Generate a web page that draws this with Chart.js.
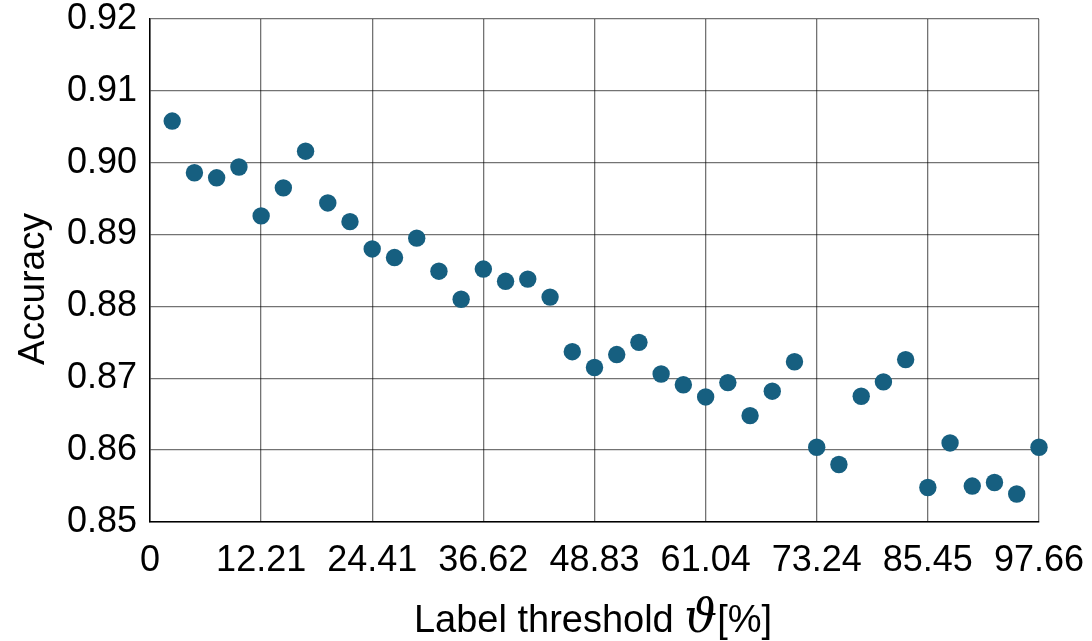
<!DOCTYPE html>
<html>
<head>
<meta charset="utf-8">
<script src="https://cdn.jsdelivr.net/npm/chart.js@4/dist/chart.umd.min.js"></script>
<style>
  html, body { margin: 0; padding: 0; background: #ffffff; }
  #wrap { width: 1092px; height: 641px; }
</style>
</head>
<body>
<div id="wrap"><canvas id="c" width="1092" height="641"></canvas></div>
<script>
// Label threshold (%) for each run
const thresholds = [
  2.44, 4.88, 7.32, 9.77, 12.21, 14.65, 17.09, 19.53, 21.97, 24.41,
  26.86, 29.30, 31.74, 34.18, 36.62, 39.06, 41.50, 43.95, 46.39, 48.83,
  51.27, 53.71, 56.15, 58.59, 61.04, 63.48, 65.92, 68.36, 70.80, 73.24,
  75.68, 78.13, 80.57, 83.01, 85.45, 87.89, 90.33, 92.77, 95.21, 97.66
];

// Accuracy measured at each threshold
const accuracy = [
  0.9058, 0.8986, 0.8979, 0.8994, 0.8926, 0.8965, 0.9016, 0.8944, 0.8918, 0.8880,
  0.8868, 0.8895, 0.8849, 0.8810, 0.8852, 0.8835, 0.8838, 0.8813, 0.8737, 0.8715,
  0.8733, 0.8750, 0.8706, 0.8691, 0.8674, 0.8694, 0.8648, 0.8682, 0.8723, 0.8604,
  0.8580, 0.8675, 0.8695, 0.8726, 0.8548, 0.8610, 0.8550, 0.8555, 0.8539, 0.8604
];

// Tick labels on the threshold axis
const xTickLabels = ['0', '12.21', '24.41', '36.62', '48.83', '61.04', '73.24', '85.45', '97.66'];
const yTickValues = [0.85, 0.86, 0.87, 0.88, 0.89, 0.90, 0.91, 0.92];

const SANS = '"Liberation Sans", Arial, sans-serif';
const gridColor = 'rgba(0,0,0,0.55)';

// Axis titles drawn by hand so the theta can use a script-like italic face
const axisTitles = {
  id: 'axisTitles',
  afterDraw(chart) {
    const ctx = chart.ctx;
    ctx.save();
    ctx.fillStyle = '#000';
    ctx.textBaseline = 'alphabetic';

    // x title: "Label threshold ϑ[%]"
    const parts = [
      { t: 'Label threshold ', f: '38px ' + SANS },
      { t: 'ϑ', f: 'italic 46px "DejaVu Serif", "Liberation Serif", serif' },
      { t: '[%]', f: '38px ' + SANS }
    ];
    let total = 0;
    parts.forEach(p => { ctx.font = p.f; p.w = ctx.measureText(p.t).width; total += p.w; });
    let x = 593 - total / 2;
    parts.forEach(p => { ctx.font = p.f; ctx.textAlign = 'left'; ctx.fillText(p.t, x, 632); x += p.w; });

    // y title: "Accuracy"
    ctx.translate(44, 289);
    ctx.rotate(-Math.PI / 2);
    ctx.font = '37px ' + SANS;
    ctx.textAlign = 'center';
    ctx.fillText('Accuracy', 0, 0);
    ctx.restore();
  }
};

new Chart(document.getElementById('c'), {
  type: 'scatter',
  data: {
    datasets: [{
      data: thresholds.map((t, i) => ({ x: t, y: accuracy[i] })),
      backgroundColor: '#165f80',
      borderWidth: 0,
      pointRadius: 8.7,
      pointHoverRadius: 8.7,
      clip: false
    }]
  },
  options: {
    responsive: false,
    animation: false,
    layout: { padding: { top: 19, right: 53, left: 0, bottom: 0 } },
    plugins: {
      legend: { display: false },
      tooltip: { enabled: false }
    },
    scales: {
      x: {
        type: 'linear',
        min: 0,
        max: parseFloat(xTickLabels[xTickLabels.length - 1]),
        afterBuildTicks(scale) {
          scale.ticks = xTickLabels.map(l => ({ value: parseFloat(l) }));
        },
        afterFit(scale) {
          scale.height = 119;
          scale.paddingLeft = 0;
          scale.paddingRight = 0;
        },
        ticks: {
          autoSkip: false,
          maxRotation: 0,
          padding: 17,
          color: '#000',
          font: { family: SANS, size: 36 },
          callback: (v, i) => xTickLabels[i]
        },
        grid: { color: gridColor, lineWidth: 1.3, drawTicks: false },
        border: { color: '#000', width: 1.5 }
      },
      y: {
        type: 'linear',
        min: yTickValues[0],
        max: yTickValues[yTickValues.length - 1],
        afterBuildTicks(scale) {
          scale.ticks = yTickValues.map(v => ({ value: v }));
        },
        afterFit(scale) {
          scale.width = 150;
          scale.paddingTop = 0;
          scale.paddingBottom = 0;
        },
        ticks: {
          padding: 13,
          color: '#000',
          font: { family: SANS, size: 36 },
          callback: v => Number(v).toFixed(2)
        },
        grid: { color: gridColor, lineWidth: 1.3, drawTicks: false },
        border: { color: '#000', width: 1.5 }
      }
    }
  },
  plugins: [axisTitles]
});
</script>
</body>
</html>
